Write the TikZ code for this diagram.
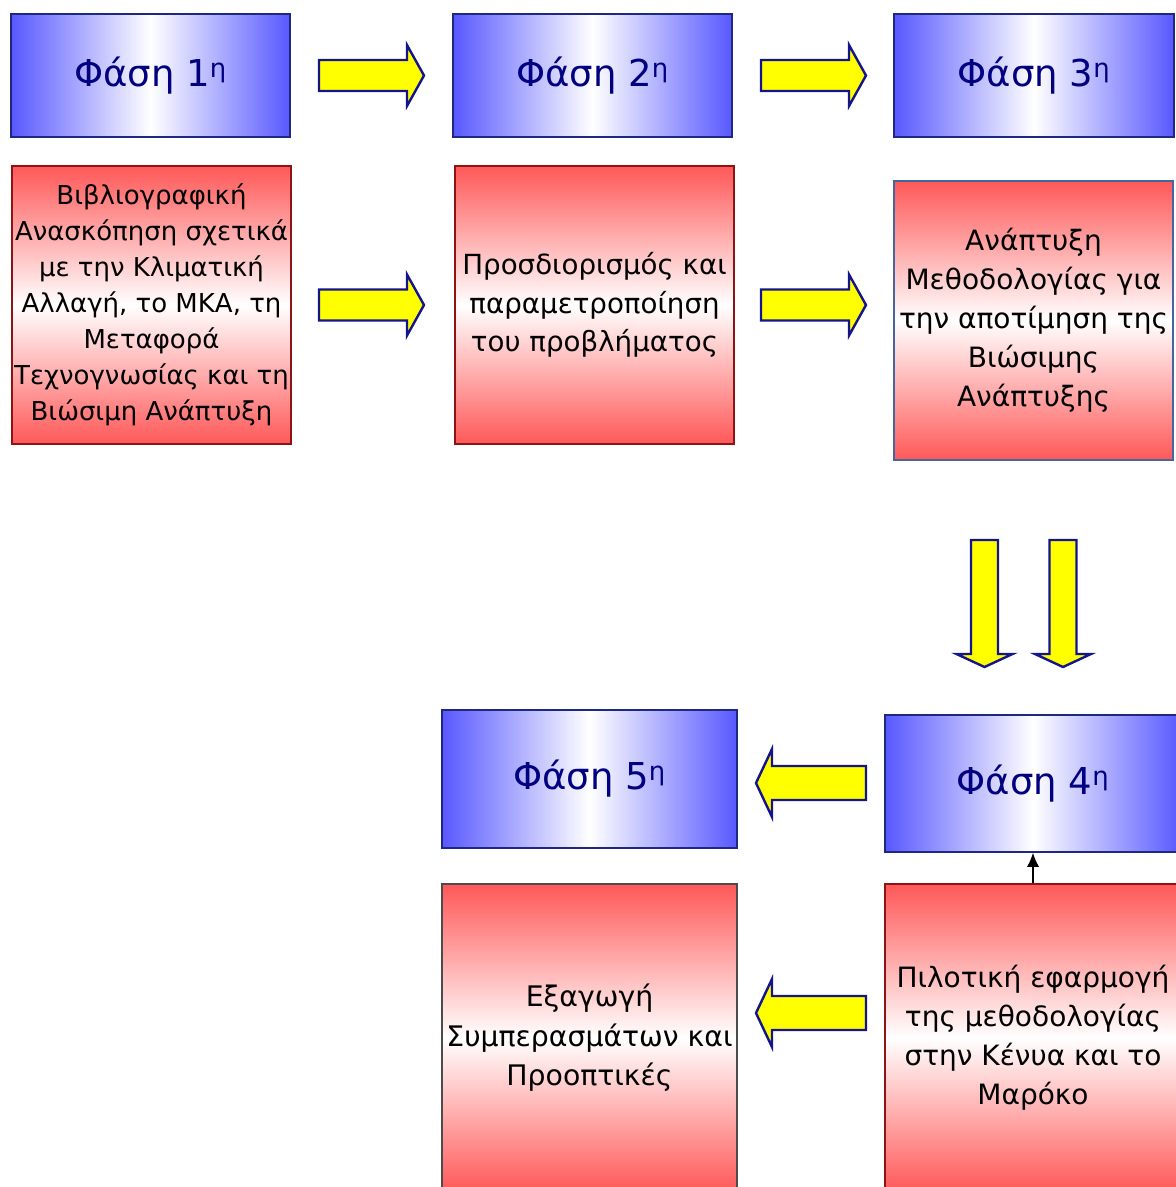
\documentclass[tikz,border=0pt]{standalone}
\usepackage{fontspec}
\setmainfont{DejaVu Sans}
\usetikzlibrary{arrows.meta}
\definecolor{bblue}{RGB}{88,88,255}
\definecolor{rred}{RGB}{255,88,88}
\definecolor{navytext}{RGB}{0,0,128}
\definecolor{bedge}{RGB}{30,40,130}
\definecolor{redge}{RGB}{140,20,20}
\definecolor{sedge}{RGB}{70,100,160}
\definecolor{ayellow}{RGB}{255,255,0}
\definecolor{aedge}{RGB}{20,20,140}
\tikzset{
 phase/.style={draw=bedge, line width=1.5pt, left color=bblue, right color=bblue, middle color=white, text=navytext, font=\fontsize{37}{42}\selectfont, inner sep=0pt, align=center},
 redbox/.style={draw=redge, line width=1.5pt, top color=rred, bottom color=rred, middle color=white, text=black, inner sep=0pt, align=center},
 barrow/.style={fill=ayellow, draw=aedge, line width=2.4pt, line join=miter},
}
\newcommand\blkarrow[7]{%
 \begin{scope}[shift={(#1,#2)},rotate=#3]
 \draw[barrow] (-#4/2,-#5) -- (#4/2-#7,-#5) -- (#4/2-#7,-#6) -- (#4/2,0) -- (#4/2-#7,#6) -- (#4/2-#7,#5) -- (-#4/2,#5) -- cycle;
 \end{scope}}
\begin{document}
\begin{tikzpicture}[x=1pt,y=-1pt]
\useasboundingbox (0,0) rectangle (1176,1187);
\clip (0,0) rectangle (1176,1187);
% phase boxes
\node[phase, minimum width=279, minimum height=123] (p1) at (150.5,75.5) {Φάση 1\textsuperscript{η}};
\node[phase, minimum width=279, minimum height=123] (p2) at (592.5,75.5) {Φάση 2\textsuperscript{η}};
\node[phase, minimum width=280, minimum height=123] (p3) at (1034,75.5) {Φάση 3\textsuperscript{η}};
\node[phase, minimum width=295, minimum height=138] (p5) at (589.5,779) {Φάση 5\textsuperscript{η}};
\node[phase, minimum width=296, minimum height=137] (p4) at (1033,783.5) {Φάση 4\textsuperscript{η}};
% red boxes
\node[redbox, minimum width=279, minimum height=278, font=\fontsize{26}{36}\selectfont] (r1) at (151.5,305) {Βιβλιογραφική\\Ανασκόπηση σχετικά\\με την Κλιματική\\Αλλαγή, το ΜΚΑ, τη\\Μεταφορά\\Τεχνογνωσίας και τη\\Βιώσιμη Ανάπτυξη};
\node[redbox, minimum width=279, minimum height=278, font=\fontsize{27.7}{38.5}\selectfont] (r2) at (594.5,305) {Προσδιορισμός και\\παραμετροποίηση\\του προβλήματος};
\node[redbox, draw=sedge, minimum width=279, minimum height=279, font=\fontsize{28}{39}\selectfont] (r3) at (1033.5,320.5) {Ανάπτυξη\\Μεθοδολογίας για\\την αποτίμηση της\\Βιώσιμης\\Ανάπτυξης};
\node[redbox, draw=black!70, minimum width=295, minimum height=308, font=\fontsize{28.3}{39.5}\selectfont] (r5) at (589.5,1038) {Εξαγωγή\\Συμπερασμάτων και\\Προοπτικές};
\node[redbox, minimum width=296, minimum height=308, font=\fontsize{28}{39}\selectfont] (r4) at (1033,1038) {Πιλοτική εφαρμογή\\της μεθοδολογίας\\στην Κένυα και το\\Μαρόκο};
% block arrows
\blkarrow{371.5}{75.5}{0}{105}{15.5}{30.5}{17}
\blkarrow{813.5}{75.5}{0}{105}{15.5}{30.5}{17}
\blkarrow{371.5}{305}{0}{105}{15.5}{30.5}{17}
\blkarrow{813.5}{305}{0}{105}{15.5}{30.5}{17}
\blkarrow{984.5}{603.5}{-90}{127}{13.5}{28}{13}
\blkarrow{1063}{603.5}{-90}{127}{13.5}{28}{13}
\blkarrow{811}{783}{180}{110}{17}{34}{16}
\blkarrow{811}{1013}{180}{110}{17}{34}{16}
% small connector
\draw[line width=1.2pt, -{Latex[length=14pt,width=12pt]}] (r4.north) -- (p4.south);
\end{tikzpicture}
\end{document}
